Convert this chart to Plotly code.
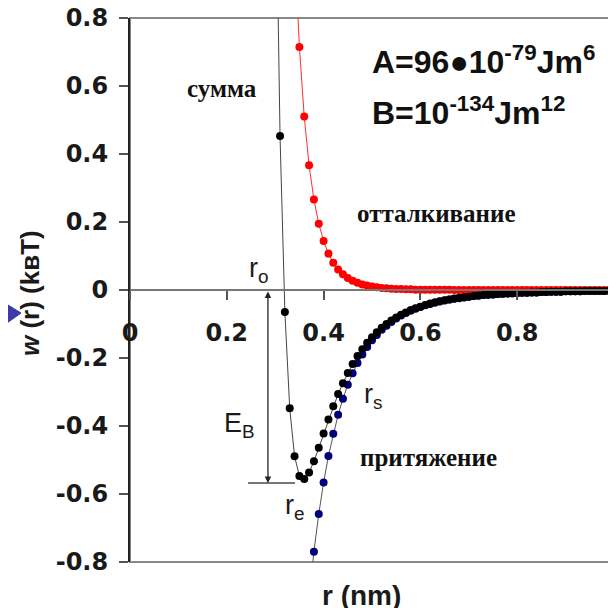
import plotly.graph_objects as go

# ---- data ----
r_nm = [0.30, 0.31, 0.32, 0.33, 0.34, 0.35, 0.36, 0.37, 0.38, 0.39,
        0.40, 0.41, 0.42, 0.43, 0.44, 0.45, 0.46, 0.47, 0.48, 0.49,
        0.50, 0.51, 0.52, 0.53, 0.54, 0.55, 0.56, 0.57, 0.58, 0.59,
        0.60, 0.61, 0.62, 0.63, 0.64, 0.65, 0.66, 0.67, 0.68, 0.69,
        0.70, 0.71, 0.72, 0.73, 0.74, 0.75, 0.76, 0.77, 0.78, 0.79,
        0.80, 0.81, 0.82, 0.83, 0.84, 0.85, 0.86, 0.87, 0.88, 0.89,
        0.90, 0.91, 0.92, 0.93, 0.94, 0.95, 0.96, 0.97, 0.98, 0.99,
        1.00]

attraction = [-3.181, -2.613, -2.160, -1.796, -1.501, -1.262, -1.065, -0.904, -0.770, -0.659,
              -0.566, -0.488, -0.423, -0.367, -0.320, -0.279, -0.245, -0.215, -0.190, -0.168,
              -0.148, -0.132, -0.117, -0.105, -0.094, -0.084, -0.075, -0.068, -0.061, -0.055,
              -0.050, -0.045, -0.041, -0.037, -0.034, -0.031, -0.028, -0.026, -0.024, -0.022,
              -0.020, -0.018, -0.017, -0.015, -0.014, -0.013, -0.012, -0.011, -0.010, -0.010,
              -0.009, -0.008, -0.008, -0.007, -0.007, -0.006, -0.006, -0.005, -0.005, -0.005,
              -0.004, -0.004, -0.004, -0.004, -0.003, -0.003, -0.003, -0.003, -0.003, -0.002,
              -0.002]

repulsion = [4.544, 3.066, 2.095, 1.448, 1.012, 0.715, 0.510, 0.367, 0.266, 0.195,
             0.144, 0.107, 0.080, 0.060, 0.046, 0.035, 0.027, 0.021, 0.016, 0.013,
             0.010, 0.008, 0.006, 0.005, 0.004, 0.003, 0.003, 0.002, 0.002, 0.001,
             0.001, 0.001, 0.001, 0.001, 0.0005, 0.0004, 0.0004, 0.0003, 0.0002, 0.0002,
             0.0002, 0.0001, 0.0001, 0.0001, 0.0001, 0.0001, 0.0, 0.0, 0.0, 0.0,
             0.0, 0.0, 0.0, 0.0, 0.0, 0.0, 0.0, 0.0, 0.0, 0.0,
             0.0, 0.0, 0.0, 0.0, 0.0, 0.0, 0.0, 0.0, 0.0, 0.0,
             0.0]

total = [1.363, 0.453, -0.065, -0.348, -0.489, -0.547, -0.556, -0.537, -0.504, -0.464,
         -0.422, -0.381, -0.342, -0.306, -0.274, -0.244, -0.218, -0.194, -0.174, -0.155,
         -0.139, -0.124, -0.111, -0.100, -0.090, -0.081, -0.073, -0.066, -0.059, -0.054,
         -0.049, -0.044, -0.040, -0.037, -0.033, -0.030, -0.028, -0.025, -0.023, -0.021,
         -0.020, -0.018, -0.016, -0.015, -0.014, -0.013, -0.012, -0.011, -0.010, -0.009,
         -0.009, -0.008, -0.008, -0.007, -0.007, -0.006, -0.006, -0.005, -0.005, -0.005,
         -0.004, -0.004, -0.004, -0.004, -0.003, -0.003, -0.003, -0.003, -0.003, -0.002,
         -0.002]

x_tickvals = [0, 0.2, 0.4, 0.6, 0.8, 1.0]
x_ticktext = ["0", "0.2", "0.4", "0.6", "0.8", "1"]
y_tickvals = [0.8, 0.6, 0.4, 0.2, 0, -0.2, -0.4, -0.6, -0.8]
y_ticktext = ["0.8", "0.6", "0.4", "0.2", "0", "-0.2", "-0.4", "-0.6", "-0.8"]

well_depth = -0.568   # E_B level
arrow_x = 0.285

TXT = "#1a1a1a"
tickfont = dict(family="DejaVu Sans", size=24, color=TXT, weight="bold")

fig = go.Figure()
fig.add_trace(go.Scatter(x=r_nm, y=attraction, mode="lines+markers",
                         line=dict(color="#555555", width=1),
                         marker=dict(color="#00007a", size=8), showlegend=False))
fig.add_trace(go.Scatter(x=r_nm, y=repulsion, mode="lines+markers",
                         line=dict(color="#ff3030", width=1),
                         marker=dict(color="#ff0000", size=8), showlegend=False))
fig.add_trace(go.Scatter(x=r_nm, y=total, mode="lines+markers",
                         line=dict(color="#444444", width=1),
                         marker=dict(color="#000000", size=8), showlegend=False))

# the page body adds an 8px margin, so the figure is 8px smaller and shifted
fig.update_layout(
    width=608, height=600,
    margin=dict(l=122, r=2, t=10, b=46, autoexpand=False),
    plot_bgcolor="white", paper_bgcolor="white",
    xaxis=dict(range=[0, 1], anchor="free", position=0.5, automargin=False,
               showline=True, linecolor="#777777", linewidth=2,
               ticks="outside", ticklen=9, tickwidth=1.5, tickcolor="#555555",
               tickvals=x_tickvals, ticktext=x_ticktext, tickfont=tickfont,
               ticklabelstandoff=12, ticklabeloverflow="allow",
               showgrid=False, zeroline=False),
    yaxis=dict(range=[-0.8, 0.8], automargin=False,
               showline=True, linecolor="#222222", linewidth=2,
               ticks="outside", ticklen=9, tickwidth=1.5, tickcolor="#555555",
               tickvals=y_tickvals, ticktext=y_ticktext, tickfont=tickfont,
               ticklabelstandoff=6, ticklabeloverflow="allow",
               showgrid=False, zeroline=False),
)

# frame
fig.add_shape(type="rect", xref="paper", yref="paper", x0=0, y0=0, x1=1, y1=1,
              line=dict(color="#888888", width=2), layer="below")
# E_B level line
fig.add_shape(type="line", xref="x", yref="y", x0=0.244, x1=0.341,
              y0=well_depth, y1=well_depth, line=dict(color="#777777", width=2))
# blue pointer arrow at the left edge
fig.add_shape(type="path", xref="paper", yref="paper",
              path="M -0.2686,0.4816 L -0.2252,0.4577 L -0.2686,0.4301 Z",
              fillcolor="#3a3aa8", line=dict(color="#3a3aa8", width=1))

# double-headed E_B arrow
fig.add_annotation(x=arrow_x, y=well_depth, ax=arrow_x, ay=0, xref="x", yref="y",
                   axref="x", ayref="y", text="", showarrow=True,
                   arrowhead=2, startarrowhead=2, arrowside="end+start",
                   arrowsize=1, startarrowsize=1, arrowwidth=1.3, arrowcolor="#222222",
                   standoff=0, startstandoff=0)

serif = dict(family="Liberation Serif", size=25, color="#111111", weight="bold")
sans = dict(family="Liberation Sans", size=27, color=TXT)
big = dict(family="Liberation Sans", size=32, color="#111111", weight="bold")

notes = [
    (0.190, 0.594, "сумма", serif, "center"),
    (0.634, 0.224, "отталкивание", serif, "center"),
    (0.616, -0.494, "притяжение", serif, "center"),
    (0.267, 0.059, "r<sub>o</sub>", sans, "center"),
    (0.227, -0.397, "E<sub>B</sub>", sans, "center"),
    (0.341, -0.638, "r<sub>e</sub>", sans, "center"),
    (0.502, -0.312, "r<sub>s</sub>", sans, "center"),
    (0.496, 0.677, "A=96●10<sup>-79</sup>Jm<sup>6</sup>", big, "left"),
    (0.496, 0.526, "B=10<sup>-134</sup>Jm<sup>12</sup>", big, "left"),
]
for x, y, t, f, xa in notes:
    fig.add_annotation(x=x, y=y, xref="x", yref="y", text=t, font=f,
                       showarrow=False, xanchor=xa, yanchor="middle")

# axis titles
fig.add_annotation(x=0.479, y=-0.0607, xref="paper", yref="paper",
                   text="r (nm)", showarrow=False, xanchor="center", yanchor="middle",
                   font=dict(family="Liberation Sans", size=28, color=TXT, weight="bold"))
fig.add_annotation(x=-0.2066, y=0.4945, xref="paper", yref="paper",
                   text="<i>w</i> (r) (kвT)", textangle=-90, showarrow=False,
                   xanchor="center", yanchor="middle",
                   font=dict(family="Liberation Sans", size=26, color=TXT, weight="bold"))

fig.write_html("out.html")
